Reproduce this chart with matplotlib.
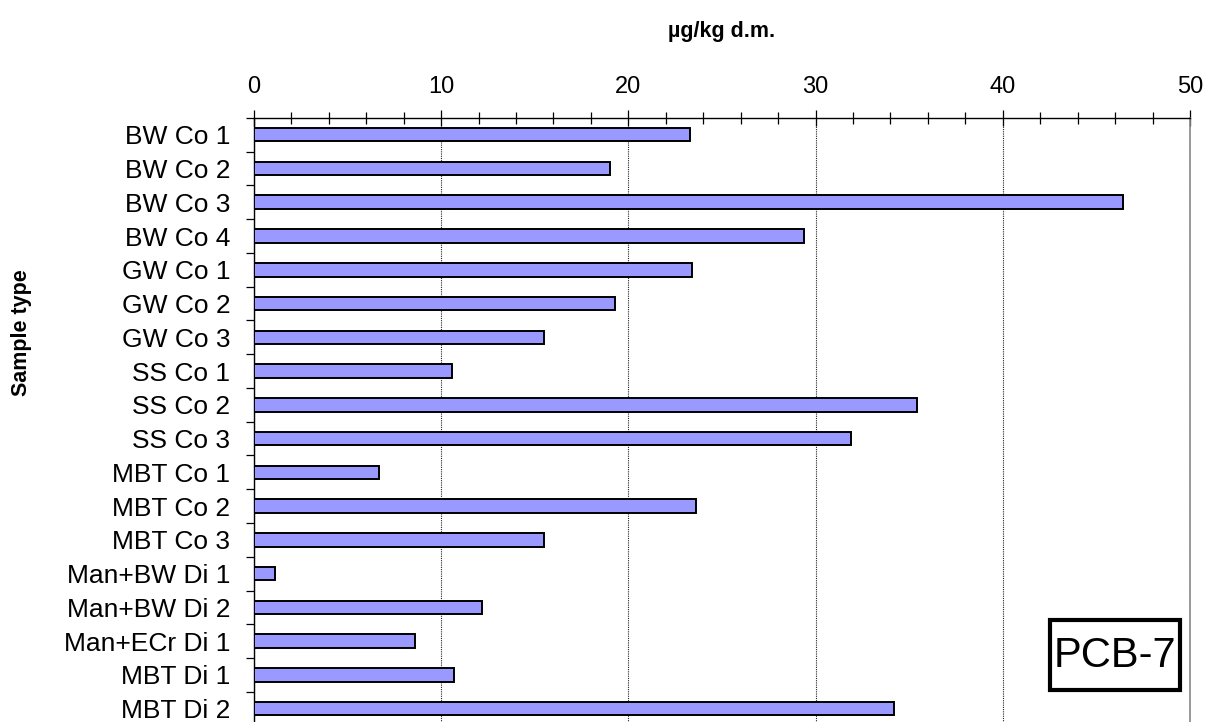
import numpy as np
import matplotlib
matplotlib.use("Agg")
import matplotlib.pyplot as plt
from matplotlib.patches import Rectangle
from matplotlib.ticker import MultipleLocator

plt.rcParams['font.family'] = ['Liberation Sans', 'DejaVu Sans']

# PCB-7 content per sample, top to bottom
samples = ["BW Co 1", "BW Co 2", "BW Co 3", "BW Co 4",
           "GW Co 1", "GW Co 2", "GW Co 3",
           "SS Co 1", "SS Co 2", "SS Co 3",
           "MBT Co 1", "MBT Co 2", "MBT Co 3",
           "Man+BW Di 1", "Man+BW Di 2", "Man+ECr Di 1",
           "MBT Di 1", "MBT Di 2"]
pcb7 = [23.3, 19.0, 46.4, 29.4,
        23.4, 19.3, 15.5,
        10.6, 35.4, 31.9,
        6.7, 23.6, 15.5,
        1.1, 12.2, 8.6,
        10.7, 34.2]
x_ticks = [0, 10, 20, 30, 40, 50]

fig = plt.figure(figsize=(12.07, 7.22), dpi=100)
ax = fig.add_axes([0.2104, -0.005, 0.7755, 0.8418])

pos = np.arange(len(samples))
ax.barh(pos, pcb7, height=0.4, color='#9999ff', edgecolor='black', linewidth=1.4, zorder=3)

ax.set_xlim(0, 50)
ax.set_ylim(len(samples) - 0.5, -0.5)

# value axis on top
ax.xaxis.tick_top()
ax.set_xticks(x_ticks)
ax.xaxis.set_minor_locator(MultipleLocator(2))
ax.tick_params(axis='x', which='major', direction='inout', length=12, width=0.9,
               labelsize=17, pad=8)
ax.tick_params(axis='x', which='minor', direction='inout', length=8, width=0.9)
ax.grid(axis='x', which='major', color='#222222', linestyle=(0, (1, 1)), linewidth=0.8, zorder=1)

# category ticks sit between the bars
ax.set_yticks(pos)
ax.set_yticklabels(samples)
ax.set_yticks(np.arange(len(samples) + 1) - 0.5, minor=True)
ax.tick_params(axis='y', which='major', length=0, labelsize=19, pad=17)
ax.tick_params(axis='y', which='minor', direction='out', length=6, width=0.9)

ax.spines['right'].set_color('#888888')
ax.spines['right'].set_linewidth(1.2)
ax.spines['bottom'].set_visible(False)
for s in ['top', 'left']:
    ax.spines[s].set_linewidth(1.0)

fig.text(0.598, 0.956, "µg/kg d.m.", ha='center', va='center', fontsize=15.5, fontweight='bold')
fig.text(0.018, 0.539, "Sample type", ha='center', va='center', rotation=90,
         fontsize=15.5, fontweight='bold')

# label box in the lower right corner
box = Rectangle((1050 / 1207, 1 - 690 / 722), 130 / 1207, 70 / 722,
                transform=fig.transFigure, facecolor='white', edgecolor='black',
                linewidth=3, zorder=5)
fig.patches.append(box)
fig.text(1115 / 1207, 1 - 656 / 722, "PCB-7", ha='center', va='center', fontsize=30, zorder=6)

fig.savefig("out.png", dpi=100)
